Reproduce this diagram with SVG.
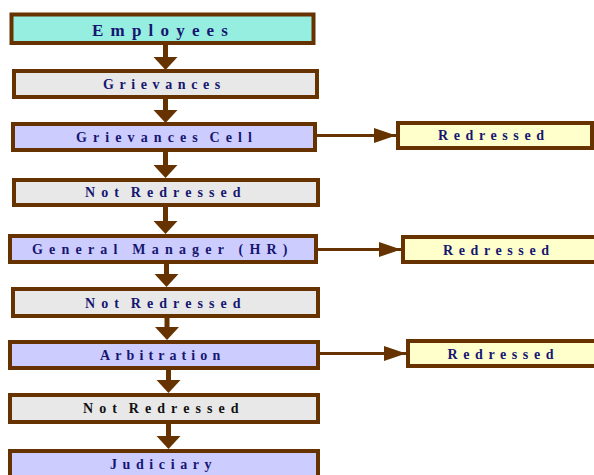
<svg xmlns="http://www.w3.org/2000/svg" width="594" height="475" viewBox="0 0 594 475">
  <style>
    .box { stroke: #663300; stroke-width: 4; }
    .start { fill: #96EEE0; }
    .state { fill: #E8E8E8; }
    .step { fill: #CCCCFF; }
    .done { fill: #FFFFCC; }
    text { font-family: "Liberation Serif", "Times New Roman", serif; font-weight: bold; font-size: 14px; fill: #161670; letter-spacing: 5.6px; word-spacing: -4px; }
    .big { font-size: 17px; letter-spacing: 7.2px; }
    .nr { letter-spacing: 6.1px; }
    .wide { letter-spacing: 6.2px; word-spacing: -1px; }
    .tight { letter-spacing: 5.1px; }
    .dark { fill: #111111; }
    .flow { stroke: #663300; fill: none; }
    .head { fill: #663300; }
  </style>
  <defs>
    <marker id="side" markerUnits="userSpaceOnUse" markerWidth="22" markerHeight="15" refX="22" refY="7.5" orient="auto">
      <path d="M0,0 L22,7.5 L0,15 Z" class="head"/>
    </marker>
  </defs>

  <!-- connectors -->
  <g id="connectors">
    <!-- downward flow: stem + triangular head -->
    <g id="down-arrows">
      <path class="flow" stroke-width="5" d="M165.5,45 V58 M165.5,99 V111 M165.5,152 V166 M165.5,207 V222 M166.5,264 V275 M167,318 V328 M168.5,370 V381 M168.5,424 V437"/>
      <path class="head" d="M153.5,57 H177.5 L165.5,70 Z"/>
      <path class="head" d="M153.5,110 H177.5 L165.5,123 Z"/>
      <path class="head" d="M153.5,165 H177.5 L165.5,178 Z"/>
      <path class="head" d="M153.5,221 H177.5 L165.5,234 Z"/>
      <path class="head" d="M154.5,274 H178.5 L166.5,287 Z"/>
      <path class="head" d="M155,327 H179 L167,340 Z"/>
      <path class="head" d="M156.5,380 H180.5 L168.5,393 Z"/>
      <path class="head" d="M156.5,436 H180.5 L168.5,449 Z"/>
    </g>
    <!-- side exits to the redressed outcomes -->
    <g id="side-arrows">
      <line class="flow" stroke-width="3" x1="317" y1="135.5" x2="396" y2="135.5" marker-end="url(#side)"/>
      <line class="flow" stroke-width="3" x1="318" y1="249.5" x2="401" y2="249.5" marker-end="url(#side)"/>
      <line class="flow" stroke-width="3" x1="320" y1="353.5" x2="406" y2="353.5" marker-end="url(#side)"/>
    </g>
  </g>

  <!-- main column -->
  <g id="employees">
    <rect class="box start" x="11.5" y="14.5" width="302" height="28.5"/>
    <text class="big" x="92" y="35.5">Employees</text>
  </g>
  <g id="grievances">
    <rect class="box state" x="14" y="71" width="303" height="26"/>
    <text x="103" y="89">Grievances</text>
  </g>
  <g id="grievances-cell">
    <rect class="box step" x="13" y="124" width="302" height="26"/>
    <text class="nr" x="76" y="141.5">Grievances Cell</text>
  </g>
  <g id="not-redressed-1">
    <rect class="box state" x="14" y="180" width="304" height="25"/>
    <text class="nr" x="85" y="197">Not Redressed</text>
  </g>
  <g id="general-manager">
    <rect class="box step" x="10" y="236" width="306" height="26"/>
    <text class="wide" x="32" y="254">General Manager (HR)</text>
  </g>
  <g id="not-redressed-2">
    <rect class="box state" x="13" y="289" width="305" height="27"/>
    <text class="nr" x="85" y="307.5">Not Redressed</text>
  </g>
  <g id="arbitration">
    <rect class="box step" x="10" y="342" width="308" height="26"/>
    <text class="tight" x="100" y="360">Arbitration</text>
  </g>
  <g id="not-redressed-3">
    <rect class="box state" x="10" y="395" width="308" height="27"/>
    <text class="nr dark" x="83" y="413">Not Redressed</text>
  </g>
  <g id="judiciary">
    <rect class="box step" x="10" y="451" width="308" height="28"/>
    <text x="110" y="469">Judiciary</text>
  </g>

  <!-- outcomes -->
  <g id="redressed-1">
    <rect class="box done" x="398" y="123" width="194" height="25"/>
    <text x="438" y="140">Redressed</text>
  </g>
  <g id="redressed-2">
    <rect class="box done" x="403" y="237" width="200" height="25"/>
    <text x="443" y="254.5">Redressed</text>
  </g>
  <g id="redressed-3">
    <rect class="box done" x="408" y="341" width="200" height="25"/>
    <text x="447.5" y="358.5">Redressed</text>
  </g>
</svg>
